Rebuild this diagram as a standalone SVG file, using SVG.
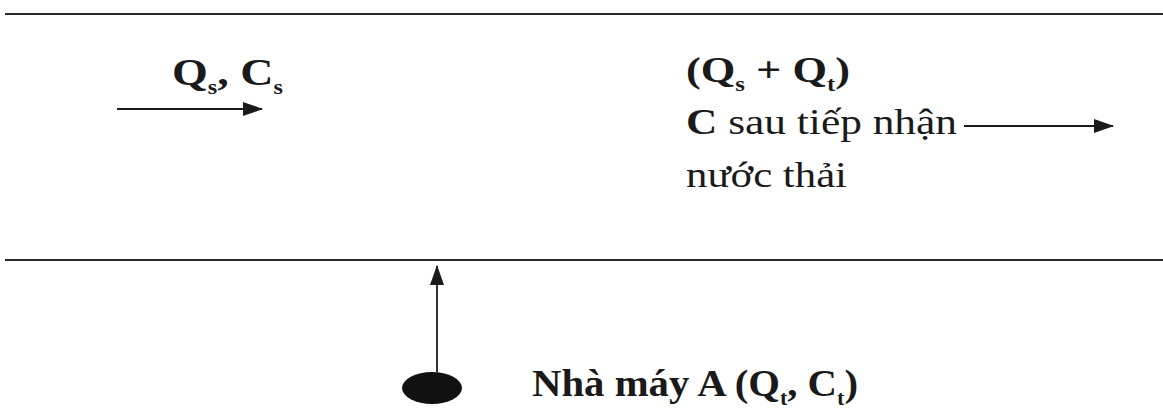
<svg xmlns="http://www.w3.org/2000/svg" width="1163" height="414" viewBox="0 0 1163 414">
<defs>
<marker id="ah" markerUnits="userSpaceOnUse" markerWidth="20" markerHeight="14" refX="19" refY="7" orient="auto">
<path d="M0,0 L20,7 L0,14 Z" fill="#1a1a1a"/>
</marker>
<style>
.bank{stroke:#2a2a2a;stroke-width:2.2;fill:none}
.flow{stroke:#1a1a1a;stroke-width:1.8;fill:none;marker-end:url(#ah)}
.t{font-family:"Liberation Serif","Times New Roman",serif;fill:#1a1a1a}
.b{font-weight:bold}
.sub{font-size:20px}
</style>
</defs>
<rect width="1163" height="414" fill="#ffffff"/>
<g id="river">
<line class="bank" x1="5" y1="14" x2="1163" y2="14"/>
<line class="bank" x1="5" y1="260" x2="1163" y2="260"/>
</g>
<g id="upstream">
<text class="t b" x="172" y="85" font-size="38" textLength="111" lengthAdjust="spacingAndGlyphs">Q<tspan class="sub" dy="9">s</tspan><tspan dy="-9">, C</tspan><tspan class="sub" dy="9">s</tspan></text>
</g>
<g id="downstream">
<text class="t b" x="686" y="82" font-size="36" textLength="164" lengthAdjust="spacingAndGlyphs">(Q<tspan class="sub" dy="9">s</tspan><tspan dy="-9"> + Q</tspan><tspan class="sub" dy="9">t</tspan><tspan dy="-9">)</tspan></text>
<text class="t" x="686" y="134" font-size="36" textLength="271" lengthAdjust="spacingAndGlyphs"><tspan class="b">C</tspan> sau tiếp nhận</text>
<text class="t" x="686" y="187" font-size="36" textLength="161" lengthAdjust="spacingAndGlyphs">nước thải</text>
</g>
<g id="factory">
<ellipse cx="432" cy="388" rx="30" ry="16" fill="#111111"/>
<text class="t b" x="532" y="396" font-size="37" textLength="326" lengthAdjust="spacingAndGlyphs">Nhà máy A (Q<tspan class="sub" dy="9">t</tspan><tspan dy="-9">, C</tspan><tspan class="sub" dy="9">t</tspan><tspan dy="-9">)</tspan></text>
</g>
<g id="connectors">
<line class="flow" x1="117" y1="109" x2="262" y2="109"/>
<line class="flow" x1="964" y1="126" x2="1113" y2="126"/>
<line class="flow" x1="437" y1="372" x2="437" y2="266"/>
</g>
</svg>
